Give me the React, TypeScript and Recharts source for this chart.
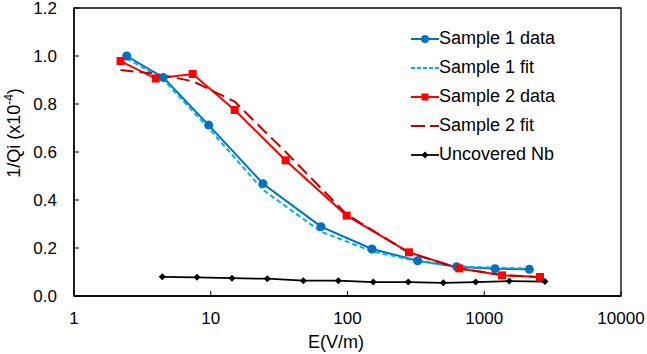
import React from 'react';
import { LineChart, Line, XAxis, YAxis, Legend, ReferenceArea } from 'recharts';

const FONT = '"Liberation Sans", Arial, sans-serif';

const BLUE = '#0070C0';
const LIGHT_BLUE = '#00B0F0';
const RED = '#FF0000';
const DARK_RED = '#C00000';
const BLACK = '#000000';

// Sample 1
const sample1X = [2.43, 4.5, 9.66, 24.1, 64, 151, 326, 629, 1199, 2137];
const sample1Data = [1.0, 0.91, 0.712, 0.468, 0.289, 0.196, 0.147, 0.122, 0.114, 0.111];
const sample1Fit = [0.99, 0.902, 0.699, 0.442, 0.268, 0.186, 0.145, 0.124, 0.118, 0.115];
// Sample 2
const sample2X = [2.19, 3.96, 7.38, 14.96, 35.3, 98.6, 281.6, 657, 1349, 2556];
const sample2Data = [0.979, 0.906, 0.925, 0.775, 0.565, 0.335, 0.182, 0.115, 0.086, 0.079];
const sample2Fit = [0.942, 0.925, 0.895, 0.81, 0.6, 0.34, 0.18, 0.115, 0.088, 0.078];
// Uncovered Nb
const nbX = [4.42, 7.93, 14.3, 25.9, 47.5, 85.7, 154.5, 278, 502, 866, 1525, 2781];
const nbData = [0.08, 0.078, 0.074, 0.072, 0.064, 0.064, 0.058, 0.058, 0.055, 0.058, 0.062, 0.06];

const majorTicks = [1, 10, 100, 1000, 10000];
const minorTicks = [
  2, 3, 4, 5, 6, 7, 8, 9,
  20, 30, 40, 50, 60, 70, 80, 90,
  200, 300, 400, 500, 600, 700, 800, 900,
  2000, 3000, 4000, 5000, 6000, 7000, 8000, 9000,
];
const yTicks = [0, 0.2, 0.4, 0.6, 0.8, 1.0, 1.2];

const seriesNames = ['Sample 1 data', 'Sample 1 fit', 'Sample 2 data', 'Sample 2 fit', 'Uncovered Nb'];

const toPoints = (xs: number[], ys: number[]) => xs.map((x, i) => ({ x, y: ys[i] }));

const s1Data = toPoints(sample1X, sample1Data);
const s1Fit = toPoints(sample1X, sample1Fit);
const s2Data = toPoints(sample2X, sample2Data);
const s2Fit = toPoints(sample2X, sample2Fit);
const nb = toPoints(nbX, nbData);

const SquareDot = (props: any) => {
  const { cx, cy, index } = props;
  if (cx == null || cy == null) return <g key={index} />;
  return <rect key={index} x={cx - 4} y={cy - 4} width={8} height={8} fill={RED} />;
};

const DiamondDot = (props: any) => {
  const { cx, cy, index } = props;
  if (cx == null || cy == null) return <g key={index} />;
  return (
    <polygon
      key={index}
      points={`${cx},${cy - 3.5} ${cx + 3.5},${cy} ${cx},${cy + 3.5} ${cx - 3.5},${cy}`}
      fill={BLACK}
    />
  );
};

const legendIcons = [
  (
    <g>
      <line x1={0} x2={28} y1={7} y2={7} stroke={BLUE} strokeWidth={2} />
      <circle cx={14} cy={7} r={4} fill={BLUE} />
    </g>
  ),
  (
    <g>
      <line x1={0} x2={28} y1={7} y2={7} stroke={LIGHT_BLUE} strokeWidth={2} strokeDasharray="4 2" />
    </g>
  ),
  (
    <g>
      <line x1={0} x2={28} y1={7} y2={7} stroke={RED} strokeWidth={2} />
      <rect x={10.5} y={3.5} width={7} height={7} fill={RED} />
    </g>
  ),
  (
    <g>
      <line x1={0} x2={28} y1={7} y2={7} stroke={DARK_RED} strokeWidth={2} strokeDasharray="14 5" />
    </g>
  ),
  (
    <g>
      <line x1={0} x2={28} y1={7} y2={7} stroke={BLACK} strokeWidth={1.75} />
      <polygon points="14,3.5 17.5,7 14,10.5 10.5,7" fill={BLACK} />
    </g>
  ),
];

const renderLegend = () => (
  <div style={{ fontFamily: FONT }}>
    {seriesNames.map((name, i) => (
      <div key={name} style={{ display: 'flex', alignItems: 'center', height: 29 }}>
        <svg width={28} height={14} style={{ display: 'block' }}>
          {legendIcons[i]}
        </svg>
        <span style={{ fontSize: 18, color: '#000', lineHeight: '29px', whiteSpace: 'nowrap' }}>{name}</span>
      </div>
    ))}
  </div>
);

const renderYTitle = () => {
  const cx = 14;
  const cy = 133;
  return (
    <text
      x={cx}
      y={cy}
      dy="0.35em"
      transform={`rotate(-90 ${cx} ${cy})`}
      textAnchor="middle"
      fontSize={18}
      fontFamily={FONT}
      fill="#000"
    >
      <tspan>1/Qi (x10</tspan>
      <tspan dy={-7} fontSize={12}>-4</tspan>
      <tspan dy={7}>)</tspan>
    </text>
  );
};

const renderXTitle = () => (
  <text x={336} y={348} textAnchor="middle" fontSize={18} fontFamily={FONT} fill="#000">
    E(V/m)
  </text>
);

export default function App() {
  return (
    <div style={{ position: 'absolute', left: 0, top: 0, width: 647, height: 354, background: '#fff', fontFamily: FONT }}>
      <LineChart width={647} height={354} margin={{ top: 8, right: 26, bottom: 0, left: 0 }}>
        <XAxis
          xAxisId="minor"
          type="number"
          dataKey="x"
          scale="log"
          domain={[1, 10000]}
          ticks={minorTicks}
          height={0}
          axisLine={false}
          tickSize={-3}
          tickLine={{ stroke: '#000', strokeWidth: 1 }}
          tick={() => <g />}
          allowDataOverflow
          interval={0}
        />
        <XAxis
          xAxisId="main"
          type="number"
          dataKey="x"
          scale="log"
          domain={[1, 10000]}
          ticks={majorTicks}
          height={58}
          interval={0}
          tickSize={-5}
          tickMargin={21}
          tick={{ fill: '#000', fontSize: 17, fontFamily: FONT }}
          tickFormatter={(v: number) => String(v)}
          axisLine={{ stroke: '#000', strokeWidth: 1.3 }}
          tickLine={{ stroke: '#000', strokeWidth: 1 }}
          allowDataOverflow
          label={{ content: renderXTitle }}
        />
        <YAxis
          yAxisId="y"
          type="number"
          domain={[0, 1.2]}
          ticks={yTicks}
          interval={0}
          width={74}
          tickSize={-5}
          tickMargin={22}
          tick={{ fill: '#000', fontSize: 17, fontFamily: FONT }}
          tickFormatter={(v: number) => v.toFixed(1)}
          axisLine={{ stroke: '#000', strokeWidth: 1.3 }}
          tickLine={{ stroke: '#000', strokeWidth: 1 }}
          allowDataOverflow
          label={{ content: renderYTitle }}
        />
        <ReferenceArea
          xAxisId="main"
          yAxisId="y"
          x1={1}
          x2={10000}
          y1={0}
          y2={1.2}
          fill="none"
          fillOpacity={0}
          stroke="#000"
          strokeWidth={1.3}
          ifOverflow="visible"
        />
        <Line
          xAxisId="main"
          yAxisId="y"
          data={s1Data}
          dataKey="y"
          name={seriesNames[0]}
          stroke={BLUE}
          strokeWidth={2}
          dot={{ r: 4.5, fill: BLUE, stroke: BLUE, strokeWidth: 0 }}
          isAnimationActive={false}
        />
        <Line
          xAxisId="main"
          yAxisId="y"
          data={s1Fit}
          dataKey="y"
          name={seriesNames[1]}
          stroke={LIGHT_BLUE}
          strokeWidth={2}
          strokeDasharray="5 3"
          dot={false}
          isAnimationActive={false}
        />
        <Line
          xAxisId="main"
          yAxisId="y"
          data={s2Data}
          dataKey="y"
          name={seriesNames[2]}
          stroke={RED}
          strokeWidth={2}
          dot={SquareDot}
          isAnimationActive={false}
        />
        <Line
          xAxisId="main"
          yAxisId="y"
          data={s2Fit}
          dataKey="y"
          name={seriesNames[3]}
          stroke={DARK_RED}
          strokeWidth={2}
          strokeDasharray="13 6"
          dot={false}
          isAnimationActive={false}
        />
        <Line
          xAxisId="main"
          yAxisId="y"
          data={nb}
          dataKey="y"
          name={seriesNames[4]}
          stroke={BLACK}
          strokeWidth={1.75}
          dot={DiamondDot}
          isAnimationActive={false}
        />
        <Legend
          layout="vertical"
          align="center"
          verticalAlign="middle"
          content={renderLegend}
          wrapperStyle={{ position: 'absolute', left: 411, top: 24, width: 200, height: 150 }}
        />
      </LineChart>
    </div>
  );
}
